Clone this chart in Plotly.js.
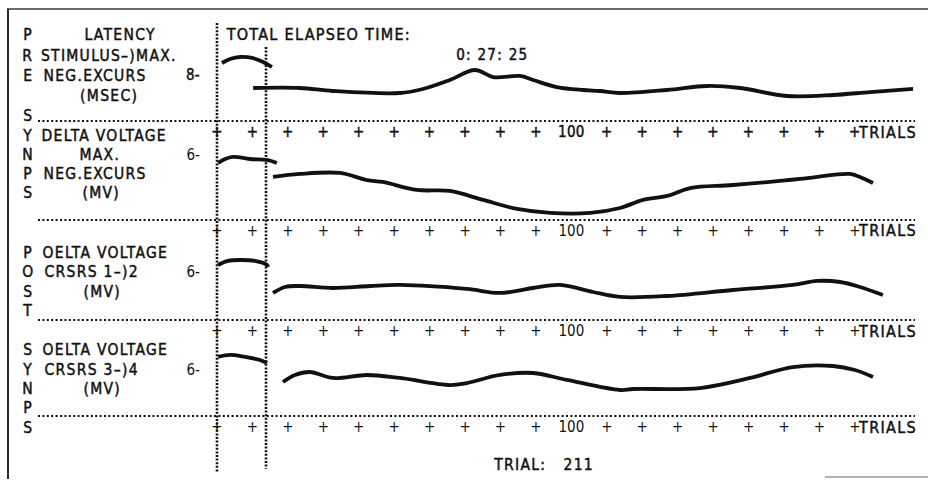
<!DOCTYPE html>
<html>
<head>
<meta charset="utf-8">
<script src="https://cdn.plot.ly/plotly-3.0.1.min.js"></script>
<style>
  html, body { margin: 0; padding: 0; background: #ffffff; }
  #chart { width: 928px; height: 480px; }
  #chart .annotation-text { letter-spacing: 1.3px; stroke: #111111; stroke-width: 0.45px; }
  #chart .xtick text, #chart .ytick text { letter-spacing: 0.3px; stroke: #111111; stroke-width: 0.45px; }
</style>
</head>
<body>
<div id="chart"></div>
<script>
// ---------- DATA ----------
// x axis: trial number; every tick is 10 trials
const xTickVals = [0, 10, 20, 30, 40, 50, 60, 70, 80, 90, 100, 110, 120, 130, 140, 150, 160, 170, 180];
const xTickText = ['+', '+', '+', '+', '+', '+', '+', '+', '+', '+', '100', '+', '+', '+', '+', '+', '+', '+', '+'];

// Panel 1: latency stimulus -> max. neg. excursion (msec)
const latPreTrials = [1.4, 3.7, 6.5, 9.9, 13.0, 15.5];
const latPreValues = [10.09, 10.78, 11.13, 10.96, 10.26, 9.39];
const latTrials = [10.2, 23.4, 32.7, 51.6, 58.1, 65.7, 72.8, 77.9, 85.5, 89.2, 95.9, 103.3, 108.1, 113.7, 127.0, 138.3, 147.6, 160.8, 173.8, 184.3, 196.4];
const latValues = [5.74, 5.74, 5.22, 4.87, 5.57, 7.13, 8.87, 7.65, 7.83, 7.13, 5.91, 5.39, 5.22, 4.87, 5.39, 6.09, 5.74, 4.35, 4.52, 5.04, 5.57];

// Panel 2: delta voltage max. neg. excursion (mV)
const dvPreTrials = [0.3, 2.3, 4.5, 9.3, 14.1, 16.9];
const dvPreValues = [5.26, 5.63, 5.82, 5.63, 5.54, 5.26];
const dvTrials = [15.8, 23.4, 34.7, 42.3, 46.8, 56.4, 65.7, 75.1, 84.7, 94.0, 105.3, 113.7, 120.2, 127.0, 133.5, 145.6, 164.5, 173.8, 178.6, 181.4, 185.1];
const dvValues = [3.97, 4.25, 4.34, 3.69, 3.51, 2.77, 2.68, 1.85, 1.02, 0.65, 0.65, 1.11, 1.85, 2.22, 2.95, 3.23, 3.79, 4.16, 4.25, 3.97, 3.42];

// Panel 3: delta voltage crsrs 1->2 (mV)
const c12PreTrials = [0.3, 3.1, 6.5, 10.7, 14.1, 14.4];
const c12PreValues = [6.88, 7.38, 7.50, 7.38, 6.88, 6.63];
const c12Trials = [15.8, 19.2, 23.4, 32.7, 43.2, 51.6, 70.5, 79.9, 89.2, 96.8, 106.1, 113.7, 127.0, 145.6, 162.5, 169.3, 175.8, 181.4, 187.9];
const c12Values = [3.38, 4.13, 4.25, 4.00, 4.25, 4.38, 3.88, 3.38, 4.00, 4.38, 3.50, 2.88, 3.00, 3.75, 4.38, 4.88, 4.75, 4.13, 3.13];

// Panel 4: delta voltage crsrs 3->4 (mV)
const c34PreTrials = [0.3, 3.7, 7.9, 12.1, 14.1];
const c34PreValues = [7.70, 7.96, 7.70, 7.30, 6.91];
const c34Trials = [18.6, 22.0, 26.2, 32.7, 42.3, 51.6, 65.7, 70.5, 79.9, 89.2, 98.8, 113.7, 117.4, 136.3, 150.4, 162.5, 173.8, 180.0, 185.1];
const c34Values = [4.43, 5.35, 5.74, 4.96, 5.35, 4.96, 4.04, 4.30, 5.35, 5.61, 4.70, 3.39, 3.52, 3.65, 4.96, 6.39, 6.52, 6.00, 5.09];

// y tick labels of each panel
const panelTickVals = [8, 6, 6, 6];
const panelTickText = ['8-', '6-', '6-', '6-'];

// ---------- LAYOUT HELPERS ----------
const W = 928, H = 480;
const px = x => x / W;
const py = y => 1 - y / H;
const FONT = '"DejaVu Sans Condensed", "Liberation Sans", Arial, sans-serif';
const INK = '#111111';

const lineStyle = { color: INK, width: 3.8, shape: 'spline', smoothing: 1 };
const series = [
  [latPreTrials, latPreValues, latTrials, latValues],
  [dvPreTrials, dvPreValues, dvTrials, dvValues],
  [c12PreTrials, c12PreValues, c12Trials, c12Values],
  [c34PreTrials, c34PreValues, c34Trials, c34Values]
];
const traces = [];
series.forEach((s, i) => {
  const xa = i === 0 ? 'x' : 'x' + (i + 1);
  const ya = i === 0 ? 'y' : 'y' + (i + 1);
  traces.push({ x: s[0], y: s[1], xaxis: xa, yaxis: ya, mode: 'lines', line: lineStyle, hoverinfo: 'skip' });
  traces.push({ x: s[2], y: s[3], xaxis: xa, yaxis: ya, mode: 'lines', line: lineStyle, hoverinfo: 'skip' });
});

// panel geometry (pixels): baseline (dotted line) and top, plus px per unit
const panels = [
  { base: 121, top: 20, scale: 5.75 },
  { base: 220, top: 128, scale: 10.833 },
  { base: 320, top: 228, scale: 8.0 },
  { base: 416, top: 328, scale: 7.667 }
];
const xLeft = 217, xRight = 921, pxPerTrial = 3.544;

const layout = {
  width: W, height: H,
  margin: { l: 0, r: 0, t: 0, b: 0, pad: 0 },
  paper_bgcolor: '#ffffff', plot_bgcolor: 'rgba(0,0,0,0)',
  showlegend: false,
  font: { family: FONT, color: INK, size: 14 },
  shapes: [], annotations: []
};

panels.forEach((p, i) => {
  const xk = i === 0 ? 'xaxis' : 'xaxis' + (i + 1);
  const yk = i === 0 ? 'yaxis' : 'yaxis' + (i + 1);
  const yname = i === 0 ? 'y' : 'y' + (i + 1);
  const xname = i === 0 ? 'x' : 'x' + (i + 1);
  layout[xk] = {
    domain: [px(xLeft), px(xRight)], range: [0, (xRight - xLeft) / pxPerTrial],
    anchor: yname, matches: i === 0 ? undefined : 'x',
    tickmode: 'array', tickvals: xTickVals, ticktext: xTickText,
    ticks: '', showline: false, showgrid: false, zeroline: false,
    tickfont: { family: FONT, size: 15, color: INK }, ticklabelstandoff: 0
  };
  layout[yk] = {
    domain: [py(p.base), py(p.top)], range: [0, (p.base - p.top) / p.scale],
    anchor: xname, tickmode: 'array', tickvals: [panelTickVals[i]], ticktext: [panelTickText[i]],
    ticks: '', showline: false, showgrid: false, zeroline: false,
    tickfont: { family: FONT, size: 15, color: INK }, ticklabelstandoff: 16
  };
  // horizontal dotted line
  layout.shapes.push({ type: 'line', xref: 'paper', yref: 'paper',
    x0: px(38), x1: px(915), y0: py(p.base), y1: py(p.base),
    line: { color: INK, width: 2.2, dash: '2px,2.4px' } });
  // "TRIALS" after last tick
  layout.annotations.push({ xref: 'paper', yref: 'paper', x: px(860), y: py(p.base + 11),
    text: 'TRIALS', showarrow: false, xanchor: 'left', yanchor: 'middle',
    font: { family: FONT, size: 16, color: INK } });
});

// vertical dotted lines
layout.shapes.push({ type: 'line', xref: 'paper', yref: 'paper', x0: px(217), x1: px(217), y0: py(23), y1: py(473),
  line: { color: INK, width: 2.6, dash: '2px,1.6px' } });
layout.shapes.push({ type: 'line', xref: 'paper', yref: 'paper', x0: px(266), x1: px(266), y0: py(47), y1: py(469),
  line: { color: INK, width: 2.6, dash: '2px,1.6px' } });
// scanned frame
layout.shapes.push({ type: 'line', xref: 'paper', yref: 'paper', x0: px(7), x1: px(928), y0: py(9), y1: py(9),
  line: { color: '#3a3a3a', width: 1.5 } });
layout.shapes.push({ type: 'line', xref: 'paper', yref: 'paper', x0: px(8), x1: px(8), y0: py(9), y1: py(479),
  line: { color: '#2a2a2a', width: 2 } });
layout.shapes.push({ type: 'line', xref: 'paper', yref: 'paper', x0: px(825), x1: px(928), y0: py(477), y1: py(477),
  line: { color: '#9a9a9a', width: 1.5 } });

function txt(t, x, y, anchor, size) {
  layout.annotations.push({ xref: 'paper', yref: 'paper', x: px(x), y: py(y), text: t,
    showarrow: false, xanchor: anchor || 'left', yanchor: 'middle',
    font: { family: FONT, size: size || 15.5, color: INK } });
}

// vertical side letters
const sideLetters = [['P', 35], ['R', 56], ['E', 76], ['S', 116], ['Y', 136], ['N', 155], ['P', 174], ['S', 193],
  ['P', 253], ['O', 272], ['S', 292], ['T', 311], ['S', 350], ['Y', 370], ['N', 389], ['P', 408], ['S', 428]];
sideLetters.forEach(l => txt(l[0], 28, l[1], 'center'));

// panel labels
txt('LATENCY', 120, 35, 'center');
txt('STIMULUS\u2013)MAX.', 48, 56);
txt('NEG.EXCURS', 48, 76);
txt('(MSEC)', 109, 96, 'center');
txt('DELTA VOLTAGE', 48, 136);
txt('MAX.', 100, 155, 'center');
txt('NEG.EXCURS', 48, 174);
txt('(MV)', 101, 193, 'center');
txt('OELTA VOLTAGE', 49, 253);
txt('CRSRS 1\u2013)2', 49, 272);
txt('(MV)', 102, 292, 'center');
txt('OELTA VOLTAGE', 49, 350);
txt('CRSRS 3\u2013)4', 49, 370);
txt('(MV)', 102, 389, 'center');

// header and footer
txt('TOTAL ELAPSEO TIME:', 236, 35, 'left', 16);
txt('0: 27: 25', 460, 55, 'left', 15);
txt('TRIAL:&nbsp;&nbsp;&nbsp;211', 499, 465, 'left', 15.5);

Plotly.newPlot('chart', traces, layout, { staticPlot: true, displayModeBar: false });
</script>
</body>
</html>
